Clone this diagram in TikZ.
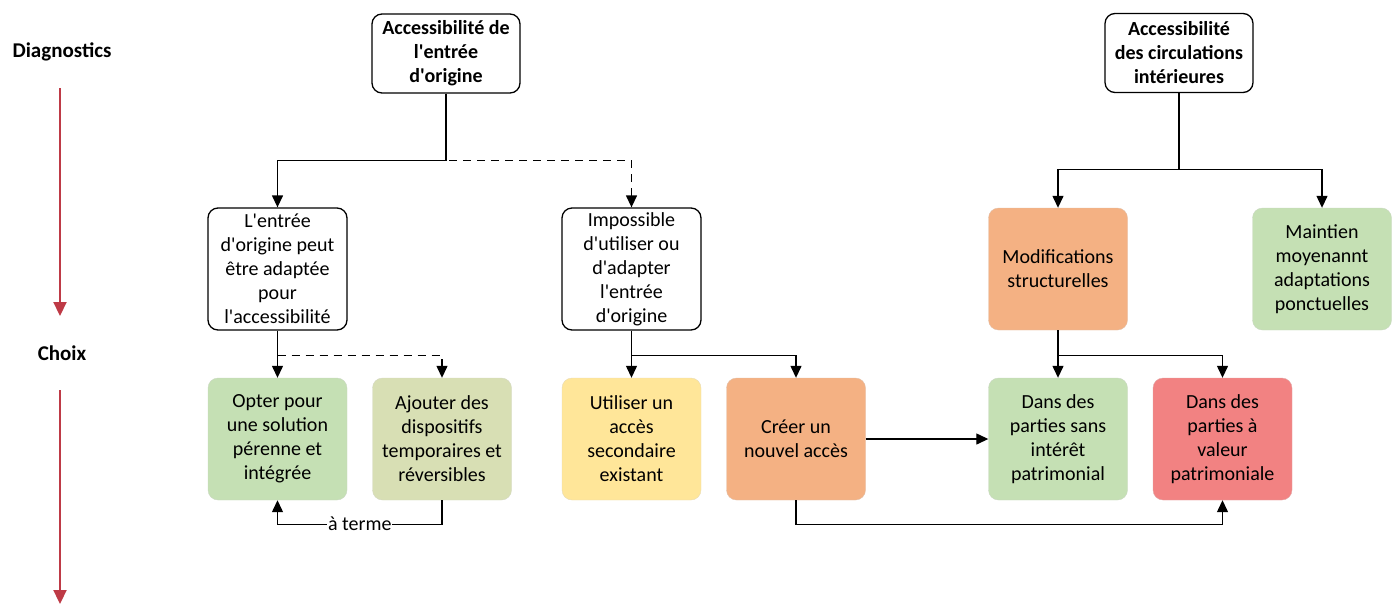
\documentclass[tikz,border=0pt]{standalone}
\usepackage{fontspec}
\setmainfont{Carlito}
\usetikzlibrary{arrows.meta}
\newcommand\ap{\textquotesingle}
\definecolor{cgreen}{HTML}{C5E0B4}
\definecolor{colive}{HTML}{D8DFB4}
\definecolor{cyellow}{HTML}{FFE699}
\definecolor{corange}{HTML}{F4B183}
\definecolor{cred}{HTML}{F28282}
\definecolor{cdark}{HTML}{BE3A46}
\tikzset{
  box/.style={rounded corners=10pt, minimum width=139pt, minimum height=122pt, align=center,
    font=\fontsize{20}{24}\selectfont, inner sep=1pt},
  wbox/.style={box, draw=black, line width=1.3pt, fill=white},
  cbox/.style={box, draw=#1!85!black!60, line width=0.4pt, fill=#1},
  title/.style={rounded corners=10pt, draw=black, line width=1.3pt, minimum width=148pt, minimum height=79pt,
    align=center, font=\fontsize{20}{24}\selectfont\bfseries, inner sep=1pt},
  lbl/.style={font=\fontsize{21}{24}\selectfont\bfseries},
  conn/.style={line width=1.3pt, -{Triangle[length=12pt,width=11pt]}},
  dconn/.style={conn, dashed, dash pattern=on 8pt off 6pt},
  red arrow/.style={draw=cdark, line width=2.2pt, -{Triangle[length=14pt,width=13pt]}},
}
\begin{document}
\begin{tikzpicture}[x=1pt,y=-1pt]
\useasboundingbox (0,0) rectangle (1400,603);
% side labels
\node[lbl] (diag) at (62,52) {Diagnostics};
\node[lbl] (choix) at (62,353) {Choix};
\coordinate (r1s) at (60,88);
\coordinate (r1e) at (60,316);
\coordinate (r2s) at (60,390);
\coordinate (r2e) at (60,604);
\draw[red arrow] (r1s) -- (r1e);
\draw[red arrow] (r2s) -- (r2e);
% titles
\node[title] (A1) at (446,53.5) {Accessibilité de\\l\ap entrée\\d\ap origine};
\node[title] (A2) at (1179,53) {Accessibilité\\des circulations\\intérieures};
% level B
\node[wbox] (B1) at (277.5,269) {L\ap entrée\\d\ap origine peut\\être adaptée\\pour\\l\ap accessibilité};
\node[wbox] (B2) at (631.5,269) {Impossible\\d\ap utiliser ou\\d\ap adapter\\l\ap entrée\\d\ap origine};
\node[cbox=corange] (M) at (1058,269) {Modifications\\structurelles};
\node[cbox=cgreen] (MA) at (1322,269) {Maintien\\moyenannt\\adaptations\\ponctuelles};
% level C
\node[cbox=cgreen] (C1) at (277.5,439) {Opter pour\\une solution\\pérenne et\\intégrée};
\node[cbox=colive] (C2) at (442,439) {Ajouter des\\dispositifs\\temporaires et\\réversibles};
\node[cbox=cyellow] (C3) at (631.5,439) {Utiliser un\\accès\\secondaire\\existant};
\node[cbox=corange] (C4) at (796,439) {Créer un\\nouvel accès};
\node[cbox=cgreen] (C5) at (1058,439) {Dans des\\parties sans\\intérêt\\patrimonial};
\node[cbox=cred] (C6) at (1222.5,439) {Dans des\\parties à\\valeur\\patrimoniale};
% connectors from A1
\draw[conn] (A1.south) -- ++(0,67) -| (B1.north);
\draw[dconn] (A1.south) -- ++(0,67) -| (B2.north);
% from A2
\draw[conn] (A2.south) -- ++(0,76) -| (M.north);
\draw[conn] (A2.south) -- ++(0,76) -| (MA.north);
% from B1
\draw[conn] (B1.south) -- (C1.north);
\draw[dconn] (B1.south) ++(0,25) -| (C2.north);
% from B2
\draw[conn] (B2.south) -- (C3.north);
\draw[conn] (B2.south) -- ++(0,25) -| (C4.north);
% from M
\draw[conn] (M.south) -- (C5.north);
\draw[conn] (M.south) -- ++(0,25) -| (C6.north);
% C4 to C5
\draw[conn] (C4.east) -- (C5.west);
% C4 to C6 bottom
\draw[conn] (C4.south) -- ++(0,24) -| (C6.south);
% C2 to C1 a terme
\draw[conn] (C2.south) -- ++(0,24) -| node[pos=0.25, fill=white, inner sep=1pt, font=\fontsize{20}{20}\selectfont] (terme) {à terme} (C1.south);
\end{tikzpicture}
\end{document}
